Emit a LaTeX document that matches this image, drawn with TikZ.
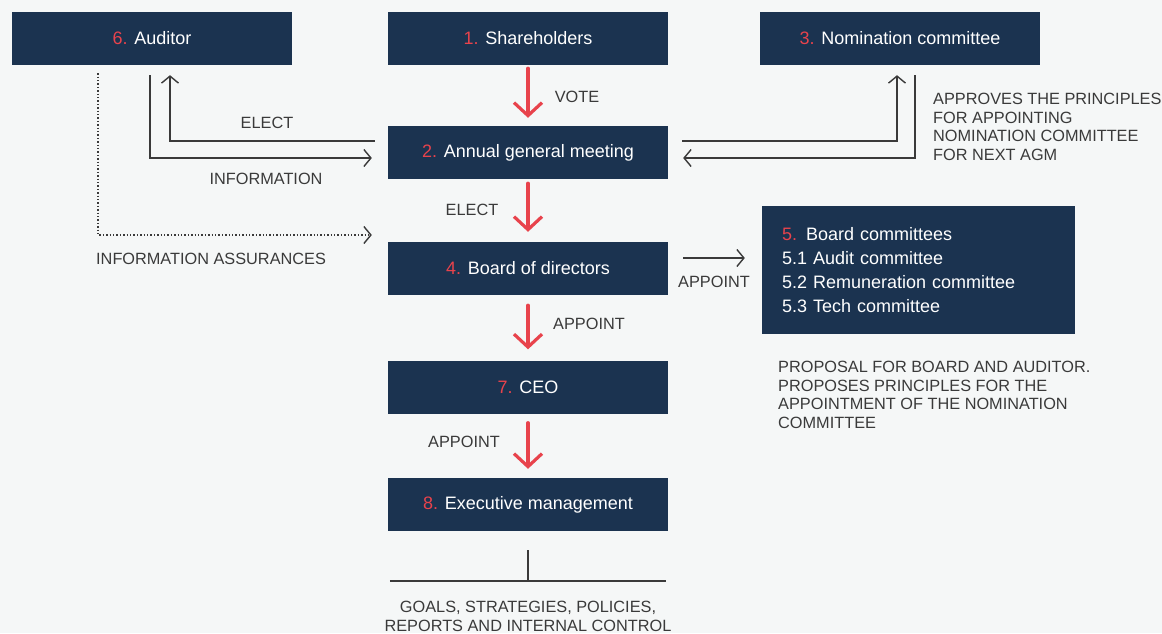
\documentclass[tikz,border=0pt]{standalone}
\usepackage{fontspec}
\setmainfont{Liberation Sans}
\usetikzlibrary{positioning,arrows.meta}
\definecolor{navy}{HTML}{1B3350}
\definecolor{accent}{HTML}{E8434C}
\definecolor{paper}{HTML}{F5F7F7}
\definecolor{graytext}{HTML}{3A3A3A}
\newcommand{\boxno}[1]{\textcolor{accent}{#1}}

\begin{document}
\begin{tikzpicture}[x=1pt,y=-1pt,
  unit/.style={fill=navy,text=white,minimum width=280pt,minimum height=53pt,inner sep=0pt,font=\fontsize{18}{22}\selectfont},
  lbl/.style={text=graytext,inner sep=0pt,font=\fontsize{16.3}{18.6}\selectfont},
  vote/.style={draw=accent,line width=3.2pt,line cap=round,-{Straight Barb[length=13pt,width=28pt,line width=3.2pt]}},
  gline/.style={draw=graytext,line width=1.4pt},
  garrow/.style={gline,-{Straight Barb[length=7pt,width=17pt,line width=1.4pt]}}]
\fill[paper] (0,0) rectangle (1162,633);
% boxes
\node[unit] (auditor) at (152,38.5) {\boxno{6.} Auditor};
\node[unit] (share) at (528,38.5) {\boxno{1.} Shareholders};
\node[unit] (nomcom) at (900,38.5) {\boxno{3.} Nomination committee};
\node[unit] (agm) at (528,152.5) {\boxno{2.} Annual general meeting};
\node[unit] (board) at (528,268.5) {\boxno{4.} Board of directors};
\node[unit] (ceo) at (528,387) {\boxno{7.} CEO};
\node[unit] (exec) at (528,504.5) {\boxno{8.} Executive management};
\node[unit,minimum width=313pt,minimum height=128pt,text width=273pt,inner xsep=20pt,align=left,font=\fontsize{18}{24}\selectfont] (comm) at (918.5,270)
  {\boxno{5.} Board committees\\5.1 Audit committee\\5.2 Remuneration committee\\5.3 Tech committee};
% main chain
\draw[vote,shorten <=3pt,shorten >=8pt] (share) -- (agm);
\draw[vote,shorten <=4pt,shorten >=10pt] (agm) -- (board);
\draw[vote,shorten <=10pt,shorten >=11pt] (board) -- (ceo);
\draw[vote,shorten <=9pt,shorten >=9pt] (ceo) -- (exec);
\node[lbl] (l-vote) at (577,97) {VOTE};
\node[lbl] (l-elect) at (472,210) {ELECT};
\node[lbl] (l-app1) at (589,324) {APPOINT};
\node[lbl] (l-app2) at (464,442) {APPOINT};
% auditor links
\draw[garrow,shorten <=13pt,shorten >=10pt] ([yshift=11.5pt]agm.west) -| ([xshift=18pt]auditor.south);
\draw[garrow,shorten <=10pt,shorten >=16pt] ([xshift=-2pt]auditor.south) |- ([yshift=-5.5pt]agm.west);
\draw[garrow,dotted,shorten <=8pt,shorten >=16pt] ([xshift=-54pt]auditor.south) |- ([yshift=33.5pt]board.west);
\node[lbl] (l-elect2) at (267,123) {ELECT};
\node[lbl] (l-info) at (266,179) {INFORMATION};
\node[lbl,anchor=west] (l-assur) at (96,259) {INFORMATION ASSURANCES};
% nomination committee links
\draw[garrow,shorten <=14pt,shorten >=10pt] ([yshift=11.5pt]agm.east) -| ([xshift=-3pt]nomcom.south);
\draw[garrow,shorten <=10pt,shorten >=15pt] ([xshift=15pt]nomcom.south) |- ([yshift=-5.5pt]agm.east);
\node[lbl,anchor=north west,align=left] (l-nom) at (933,93)
  {APPROVES THE PRINCIPLES\\FOR APPOINTING\\NOMINATION COMMITTEE\\FOR NEXT AGM};
% committees
\coordinate (app-end) at ([yshift=10.5pt]board.east -| comm.west);
\draw[garrow,shorten <=15pt,shorten >=17pt] ([yshift=10.5pt]board.east) -- (app-end);
\node[lbl] (l-app3) at (714,282) {APPOINT};
\node[lbl,anchor=north west,align=left] (l-prop) at (778,361)
  {PROPOSAL FOR BOARD AND AUDITOR.\\PROPOSES PRINCIPLES FOR THE\\APPOINTMENT OF THE NOMINATION\\COMMITTEE};
% outputs of management
\coordinate (fork) at (528,581);
\draw[gline,shorten <=19pt] (exec.south) -- (fork);
\draw[gline] ([xshift=2pt]fork -| exec.west) -- ([xshift=-2pt]fork -| exec.east);
\node[lbl,anchor=north,align=center] (l-goals) at (528,601)
  {GOALS, STRATEGIES, POLICIES,\\REPORTS AND INTERNAL CONTROL};
\useasboundingbox (0,0) rectangle (1162,633);
\end{tikzpicture}
\end{document}
